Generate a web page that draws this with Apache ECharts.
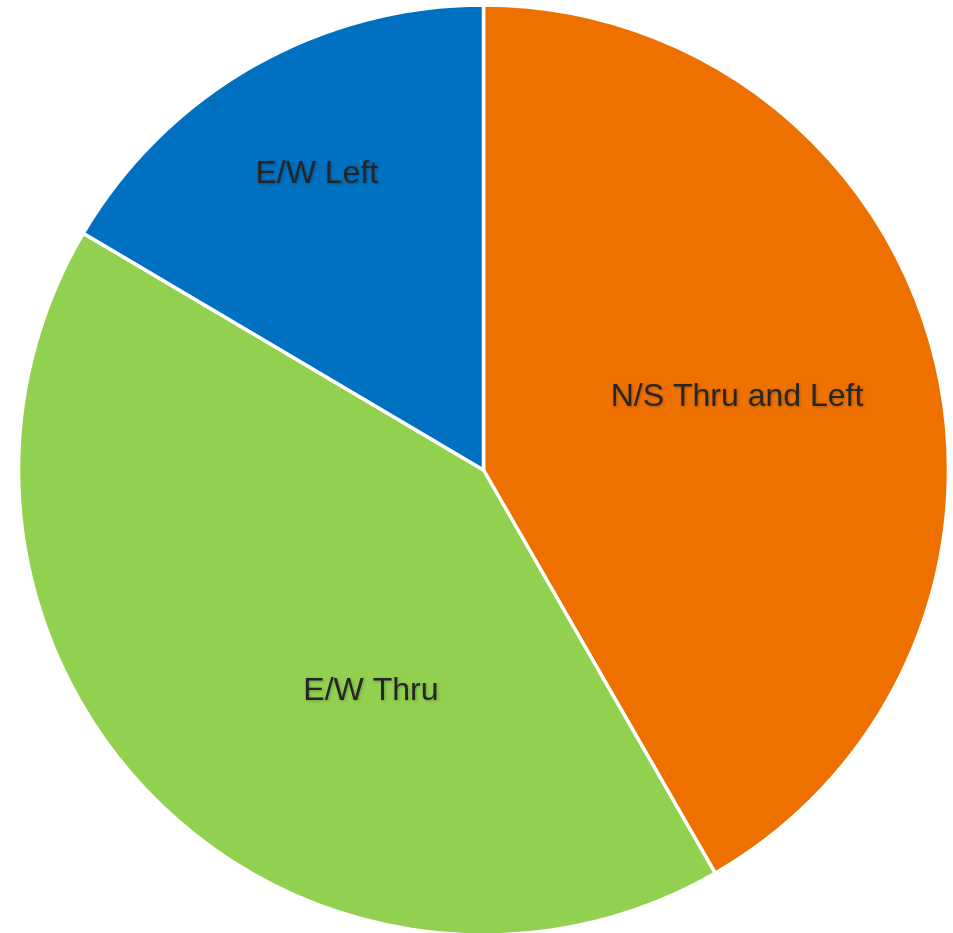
<!DOCTYPE html>
<html>
<head>
<meta charset="utf-8">
<style>
html,body{margin:0;padding:0;background:#ffffff;}
#chart{width:953px;height:933px;}
</style>
<script src="https://cdn.jsdelivr.net/npm/echarts@6/dist/echarts.min.js"></script>
</head>
<body>
<div id="chart"></div>
<script>
var categories = ['N/S Thru and Left', 'E/W Thru', 'E/W Left'];
var values = [41.7, 41.8, 16.5];
var colors = ['#EE7100', '#92D050', '#0070C0'];
var labelShift = [[26, -12], [55, 56], [-50, -91]];

var chart = echarts.init(document.getElementById('chart'));
chart.setOption({
  animation: false,
  backgroundColor: '#ffffff',
  series: [{
    type: 'pie',
    center: [483.5, 470],
    radius: [0, 465],
    startAngle: 90,
    clockwise: true,
    silent: true,
    itemStyle: { borderColor: '#ffffff', borderWidth: 3.5 },
    label: {
      show: true,
      position: 'inside',
      color: '#262626',
      fontFamily: 'Liberation Sans, Arial, sans-serif',
      fontSize: 32,
      textShadowColor: 'rgba(0,0,0,0.25)',
      textShadowBlur: 3,
      textShadowOffsetX: 1,
      textShadowOffsetY: 1,
      formatter: '{b}'
    },
    labelLine: { show: false },
    labelLayout: function (p) {
      var s = labelShift[p.dataIndex];
      return { dx: s[0], dy: s[1] };
    },
    data: categories.map(function (c, i) {
      return { name: c, value: values[i], itemStyle: { color: colors[i] } };
    })
  }]
});
</script>
</body>
</html>
